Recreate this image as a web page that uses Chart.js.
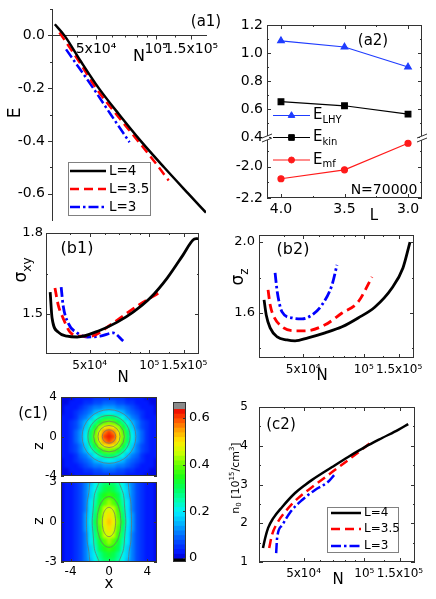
<!DOCTYPE html>
<html>
<head>
<meta charset="utf-8">
<script src="https://cdn.jsdelivr.net/npm/chart.js@4.4.1/dist/chart.umd.min.js"></script>
<style>
html,body{margin:0;padding:0;background:#ffffff;}
#fig{position:relative;width:436px;height:599px;overflow:hidden;background:#ffffff;}
#fig canvas{position:absolute;display:block;}
</style>
</head>
<body>
<div id="fig"></div>
<script>
// ================= DATA =================
// shared logarithmic particle-number axis
const N_TICKS = [50000, 100000, 150000];
const N_TICK_LABELS = ['5x10\u2074', '10\u2075', '1.5x10\u2075'];
const N_MINOR = [40000, 60000, 70000, 80000, 90000, 125000];
const N_MIN = 30100, N_MAX = 178000;
const SERIES_NAMES = ['L=4', 'L=3.5', 'L=3'];

// (a1) energy per particle E vs N
const A1_E_TICKS = [0, -0.2, -0.4, -0.6];
const A1_E_MINOR = [0.1, -0.1, -0.3, -0.5];
const A1_L4_N  = [31100, 34700, 42100, 51600, 65300, 83700, 109600, 145000, 177800];
const A1_L4_E  = [0.042, 0.0, -0.10, -0.20, -0.30, -0.40, -0.50, -0.60, -0.672];
const A1_L35_N = [32800, 41200, 50000, 63300, 81100, 99600, 115600];
const A1_L35_E = [0.011, -0.10, -0.20, -0.30, -0.40, -0.485, -0.55];
const A1_L3_N  = [35400, 48400, 59300, 73600];
const A1_L3_E  = [-0.053, -0.20, -0.30, -0.405];

// (a2) energy contributions vs L at N=70000 (broken y axis)
const A2_L = [4.0, 3.5, 3.0];
const A2_L_TICKS = [4.0, 3.5, 3.0];
const A2_L_MINOR = [3.75, 3.25];
const A2_ELHY = [1.087, 1.043, 0.900];
const A2_EKIN = [0.652, 0.623, 0.563];
const A2_EMF  = [-2.077, -2.020, -1.850];
const A2_UP_TICKS = [0.4, 0.6, 0.8, 1.0, 1.2];
const A2_UP_MINOR = [0.5, 0.7, 0.9, 1.1];
const A2_LOW_TICKS = [-2.2, -2.0];
const A2_LOW_MINOR = [-2.1, -1.9];
const A2_NAMES = [['E', 'LHY'], ['E', 'kin'], ['E', 'mf']];

// (b1) sigma_xy vs N
const B1_TICKS = [1.5, 1.8];
const B1_MINOR = [1.65];
const B1_L4_N  = [31600, 32300, 34700, 38500, 43200, 56500, 68900, 82800, 100900, 123000, 148000, 166000, 176000];
const B1_L4_S  = [1.581, 1.485, 1.433, 1.418, 1.415, 1.440, 1.470, 1.507, 1.559, 1.633, 1.719, 1.774, 1.780];
const B1_L35_N = [33400, 34700, 36700, 39800, 44800, 50300, 63400, 77300, 93100, 116000];
const B1_L35_S = [1.596, 1.533, 1.485, 1.433, 1.418, 1.418, 1.459, 1.504, 1.544, 1.585];
const B1_L3_N  = [35900, 36700, 38900, 43200, 48600, 56500, 65700, 73800];
const B1_L3_S  = [1.600, 1.533, 1.467, 1.430, 1.415, 1.418, 1.430, 1.400];

// (b2) sigma_z vs N
const B2_TICKS = [1.6, 2.0];
const B2_MINOR = [1.4, 1.8];
const B2_L4_N  = [31900, 32700, 34200, 37100, 41500, 45500, 52800, 64200, 78000, 93800, 113800, 138300, 156800, 170000];
const B2_L4_S  = [1.674, 1.589, 1.516, 1.465, 1.448, 1.443, 1.460, 1.488, 1.522, 1.572, 1.634, 1.741, 1.854, 2.000];
const B2_L35_N = [33400, 34200, 35400, 39200, 45500, 51000, 64200, 78000, 93800, 110000];
const B2_L35_S = [1.730, 1.646, 1.589, 1.522, 1.499, 1.499, 1.533, 1.600, 1.662, 1.803];
const B2_L3_N  = [36200, 37100, 39200, 44000, 49300, 55300, 62000, 69500, 73600];
const B2_L3_S  = [1.826, 1.720, 1.606, 1.572, 1.567, 1.589, 1.646, 1.758, 1.871];

// (c1) density maps (one quadrant, mirror-symmetric in x and z)
const C1_X = [0, 0.5, 1, 1.5, 2, 2.5, 3, 3.5, 4, 4.5, 5];
const C1_TOP_Z = [0, 0.5, 1, 1.5, 2, 2.5, 3, 3.5, 4];
const C1_TOP_RHO = [
  [0.635, 0.61, 0.51, 0.40, 0.29, 0.20, 0.13, 0.085, 0.055, 0.038, 0.027],
  [0.61, 0.575, 0.48, 0.38, 0.28, 0.19, 0.128, 0.082, 0.054, 0.037, 0.027],
  [0.51, 0.48, 0.42, 0.33, 0.245, 0.17, 0.115, 0.078, 0.051, 0.035, 0.026],
  [0.40, 0.38, 0.33, 0.27, 0.20, 0.155, 0.10, 0.065, 0.046, 0.032, 0.024],
  [0.29, 0.28, 0.245, 0.20, 0.148, 0.11, 0.08, 0.054, 0.039, 0.029, 0.021],
  [0.20, 0.19, 0.17, 0.155, 0.11, 0.082, 0.06, 0.045, 0.033, 0.025, 0.019],
  [0.13, 0.128, 0.115, 0.10, 0.08, 0.06, 0.047, 0.035, 0.027, 0.021, 0.017],
  [0.085, 0.082, 0.078, 0.065, 0.054, 0.045, 0.035, 0.028, 0.022, 0.018, 0.015],
  [0.055, 0.054, 0.051, 0.046, 0.039, 0.033, 0.027, 0.022, 0.018, 0.015, 0.012]
];
const C1_TOP_CONTOUR_R = [2.8, 2.2, 1.6, 1.15, 0.7];
const C1_BOT_Z = [0, 0.5, 1, 1.5, 2, 2.5, 3];
const C1_BOT_RHO = [
  [0.52, 0.485, 0.41, 0.30, 0.20, 0.122, 0.076, 0.05, 0.035, 0.025, 0.018],
  [0.505, 0.47, 0.395, 0.29, 0.197, 0.12, 0.075, 0.05, 0.035, 0.025, 0.018],
  [0.47, 0.44, 0.37, 0.275, 0.19, 0.118, 0.074, 0.049, 0.034, 0.025, 0.018],
  [0.42, 0.395, 0.335, 0.255, 0.18, 0.115, 0.072, 0.048, 0.034, 0.025, 0.018],
  [0.365, 0.35, 0.30, 0.235, 0.17, 0.11, 0.07, 0.047, 0.033, 0.024, 0.018],
  [0.32, 0.31, 0.27, 0.215, 0.16, 0.105, 0.068, 0.046, 0.033, 0.024, 0.018],
  [0.29, 0.285, 0.25, 0.20, 0.15, 0.10, 0.065, 0.045, 0.032, 0.024, 0.018]
];
const C1_BOT_CONTOURS = [
  {x: [0.7, 0.61, 0.35, 0, -0.35, -0.61, -0.7, -0.61, -0.35, 0, 0.35, 0.61, 0.7],
   z: [0, 0.55, 0.95, 1.1, 0.95, 0.55, 0, -0.55, -0.95, -1.1, -0.95, -0.55, 0]},
  {x: [1.25, 1.08, 0.62, 0, -0.62, -1.08, -1.25, -1.08, -0.62, 0, 0.62, 1.08, 1.25],
   z: [0, 0.95, 1.65, 1.9, 1.65, 0.95, 0, -0.95, -1.65, -1.9, -1.65, -0.95, 0]},
  {x: [1.0, 1.3, 1.52, 1.64, 1.75, 1.64, 1.52, 1.3, 1.0], z: [3, 2.5, 2, 1, 0, -1, -2, -2.5, -3]},
  {x: [-1.0, -1.3, -1.52, -1.64, -1.75, -1.64, -1.52, -1.3, -1.0], z: [3, 2.5, 2, 1, 0, -1, -2, -2.5, -3]},
  {x: [2.0, 2.1, 2.27, 2.32, 2.35, 2.32, 2.27, 2.1, 2.0], z: [3, 2.2, 1.5, 0.8, 0, -0.8, -1.5, -2.2, -3]},
  {x: [-2.0, -2.1, -2.27, -2.32, -2.35, -2.32, -2.27, -2.1, -2.0], z: [3, 2.2, 1.5, 0.8, 0, -0.8, -1.5, -2.2, -3]}
];
const C1_X_RANGE = [-5, 5];
const C1_TOP_Z_RANGE = [-4, 4];
const C1_BOT_Z_RANGE = [-3, 3];
const C1_X_TICKS = [-4, 0, 4];
const C1_TOP_Z_TICKS = [-4, 0, 4];
const C1_BOT_Z_TICKS = [-3, 0, 3];
const CB_LEVELS = [0, 0.02, 0.04, 0.06, 0.08, 0.1, 0.12, 0.14, 0.16, 0.18, 0.2, 0.22, 0.24, 0.26, 0.28, 0.3,
                   0.32, 0.34, 0.36, 0.38, 0.4, 0.42, 0.44, 0.46, 0.48, 0.5, 0.52, 0.54, 0.56, 0.58, 0.6, 0.62, 0.64];
const CB_UNDER = [-0.017, 0];
const CB_OVER = [0.64, 0.668];
const CB_TICKS = [0, 0.2, 0.4, 0.6];

// (c2) peak density n0 vs N
const C2_TICKS = [1, 2, 3, 4, 5];
const C2_MINOR = [1.5, 2.5, 3.5, 4.5];
const C2_L4_N  = [31500, 32300, 33400, 35300, 39200, 45400, 50900, 55100, 69200, 83100, 100900, 122400, 147000, 164800];
const C2_L4_V  = [1.36, 1.62, 1.88, 2.12, 2.42, 2.78, 2.99, 3.12, 3.45, 3.71, 3.97, 4.20, 4.41, 4.56];
const C2_L35_N = [33800, 34900, 37000, 40500, 47000, 57000, 69200, 83100, 106900];
const C2_L35_V = [1.36, 1.70, 2.00, 2.29, 2.65, 2.99, 3.32, 3.63, 4.07];
const C2_L3_N  = [36600, 37000, 39200, 42900, 49200, 57000, 66200, 70800];
const C2_L3_V  = [1.23, 1.62, 1.95, 2.28, 2.60, 2.86, 3.07, 3.24];

// ================= STYLE / HELPERS =================
const FONT = "'DejaVu Sans', 'Liberation Sans', Arial, sans-serif";
Chart.defaults.font.family = FONT;
Chart.defaults.color = '#000';
Chart.defaults.animation = false;
Chart.defaults.responsive = false;
Chart.defaults.maintainAspectRatio = false;
Chart.defaults.devicePixelRatio = 1;
Chart.defaults.events = [];
Chart.defaults.plugins.legend.display = false;
Chart.defaults.plugins.tooltip.enabled = false;

const AXIS = '#333333';
const BLACK = '#000000', RED = '#ff0000', BLUE = '#0000ff';
const A2_BLUE = '#1f3cff', A2_RED = '#ff1a1a';
const CONTOUR = '#6f6f6f';
const DASH_RED = [9, 5];
const DASH_BLUE = [10, 3, 2.5, 3];
const HEAT_BLUR = 'blur(1.6px)';
const CMAP = [[0.00, [0, 0, 215]], [0.03, [0, 25, 255]], [0.06, [0, 60, 255]], [0.10, [0, 110, 255]], [0.15, [0, 180, 255]],
  [0.20, [0, 240, 255]], [0.25, [0, 255, 170]], [0.30, [0, 255, 90]], [0.35, [30, 255, 20]],
  [0.40, [100, 255, 0]], [0.45, [200, 255, 0]], [0.50, [255, 235, 0]], [0.55, [255, 160, 0]],
  [0.60, [255, 70, 0]], [0.64, [235, 0, 0]]];

function cmap(v) {
  if (v < 0) return '#000000';
  if (v >= 0.64) return '#8a8a8a';
  const q = Math.floor(v / 0.02) * 0.02 + 0.01;
  for (let i = 1; i < CMAP.length; i++) {
    if (q <= CMAP[i][0]) {
      const a = CMAP[i - 1][0], ca = CMAP[i - 1][1], b = CMAP[i][0], cb = CMAP[i][1];
      const t = (q - a) / (b - a);
      return 'rgb(' + ca.map((c, k) => Math.round(c + (cb[k] - c) * t)).join(',') + ')';
    }
  }
  return 'rgb(235,0,0)';
}

function mkCanvas(L, T, W, H) {
  const c = document.createElement('canvas');
  c.width = W; c.height = H;
  c.style.left = L + 'px'; c.style.top = T + 'px';
  c.style.width = W + 'px'; c.style.height = H + 'px';
  document.getElementById('fig').appendChild(c);
  return c;
}
const fitTo = size => s => {
  if (s.isHorizontal()) s.height = size; else s.width = size;
  s.paddingLeft = 0; s.paddingRight = 0; s.paddingTop = 0; s.paddingBottom = 0;
};
const setTicks = vals => s => { s.ticks = vals.map(v => ({value: v})); };
const pts = (xs, ys) => xs.map((x, i) => ({x: x, y: ys[i]}));
const nLabel = v => { const i = N_TICKS.indexOf(v); return i < 0 ? '' : N_TICK_LABELS[i]; };
const NOGRID = {display: false, drawTicks: false, tickLength: 0};

function curve(xs, ys, color, w, dash) {
  return {data: pts(xs, ys), borderColor: color, backgroundColor: color, borderWidth: w,
    borderDash: dash, pointRadius: 0, cubicInterpolationMode: 'monotone', fill: false};
}
function nAxis(height, pad, size) {
  return {type: 'logarithmic', position: 'bottom', min: N_MIN, max: N_MAX,
    afterBuildTicks: setTicks(N_TICKS), afterFit: fitTo(height),
    grid: NOGRID, border: {display: false},
    ticks: {callback: nLabel, autoSkip: false, maxRotation: 0, minRotation: 0, padding: pad, font: {size: size}, color: '#000'}};
}
function linAxis(o) {
  return Object.assign({type: 'linear', min: o.min, max: o.max,
    afterBuildTicks: setTicks(o.ticks), afterFit: fitTo(o.fit),
    grid: NOGRID, border: {display: false},
    ticks: {callback: o.fmt, autoSkip: false, padding: o.pad, font: {size: o.size}, color: '#000'}}, o.extra || {});
}

function drawRich(ctx, t, ox, oy) {
  const size = t.size || 14;
  const parts = t.parts || [{s: t.s}];
  ctx.save();
  ctx.translate(t.x - ox, t.y - oy);
  if (t.rot) ctx.rotate(t.rot * Math.PI / 180);
  ctx.fillStyle = t.color || '#000';
  ctx.textBaseline = 'middle';
  ctx.textAlign = 'left';
  const items = parts.map(p => {
    const fs = (p.sub || p.sup) ? Math.round(size * 0.68) : size;
    ctx.font = fs + 'px ' + FONT;
    return {p: p, fs: fs, w: ctx.measureText(p.s).width};
  });
  const total = items.reduce((a, m) => a + m.w, 0);
  let x = t.align === 'left' ? 0 : (t.align === 'right' ? -total : -total / 2);
  for (const m of items) {
    ctx.font = m.fs + 'px ' + FONT;
    const dy = m.p.sub ? size * 0.32 : (m.p.sup ? -size * 0.36 : 0);
    ctx.fillText(m.p.s, x, dy);
    x += m.w;
  }
  ctx.restore();
}
function drawMarker(ctx, style, r, x, y, color) {
  ctx.save();
  ctx.fillStyle = color; ctx.strokeStyle = color; ctx.lineWidth = 1;
  if (Chart.helpers && Chart.helpers.drawPoint) {
    Chart.helpers.drawPoint(ctx, {pointStyle: style, radius: r, borderWidth: 1, rotation: 0}, x, y);
  } else {
    ctx.beginPath(); ctx.arc(x, y, r, 0, Math.PI * 2); ctx.fill();
  }
  ctx.restore();
}
function drawTickSpec(chart, sp) {
  const ctx = chart.ctx, ca = chart.chartArea, s = chart.scales[sp.scale];
  ctx.save();
  ctx.strokeStyle = AXIS; ctx.lineWidth = 1; ctx.setLineDash([]);
  ctx.beginPath();
  for (const v of sp.vals) {
    let p = s.getPixelForValue(v);
    if (s.isHorizontal()) { if (p < ca.left - 0.5 || p > ca.right + 0.5) continue; }
    else { if (p < s.top - 0.5 || p > s.bottom + 0.5) continue; }
    p = Math.round(p) + 0.5;
    const L = sp.len * (sp.out ? -1 : 1);
    for (const side of sp.sides) {
      if (side === 'bottom') { ctx.moveTo(p, ca.bottom); ctx.lineTo(p, ca.bottom - L); }
      else if (side === 'top') { ctx.moveTo(p, ca.top); ctx.lineTo(p, ca.top + L); }
      else if (side === 'left') { ctx.moveTo(ca.left, p); ctx.lineTo(ca.left + L, p); }
      else if (side === 'right') { ctx.moveTo(ca.right, p); ctx.lineTo(ca.right - L, p); }
      else if (side === 'zero') {
        const y0 = Math.round(chart.scales.y.getPixelForValue(0)) + 0.5;
        ctx.moveTo(p, y0); ctx.lineTo(p, y0 - L);
      }
    }
  }
  ctx.stroke();
  ctx.restore();
}
function drawLegend(ctx, lg, ox, oy) {
  ctx.save();
  if (lg.box) {
    ctx.fillStyle = '#fff';
    ctx.fillRect(lg.box[0] - ox, lg.box[1] - oy, lg.box[2], lg.box[3]);
    ctx.strokeStyle = '#808080'; ctx.lineWidth = 1;
    ctx.strokeRect(lg.box[0] - ox + 0.5, lg.box[1] - oy + 0.5, lg.box[2], lg.box[3]);
  }
  for (const it of lg.items) {
    const y = it.y - oy;
    ctx.beginPath();
    ctx.setLineDash(it.dash || []);
    ctx.strokeStyle = it.color; ctx.lineWidth = it.width;
    ctx.moveTo(it.x1 - ox, y); ctx.lineTo(it.x2 - ox, y);
    ctx.stroke();
    ctx.setLineDash([]);
    if (it.marker) drawMarker(ctx, it.marker, it.r, (it.x1 + it.x2) / 2 - ox, y, it.color);
    drawRich(ctx, {x: it.tx, y: it.y, parts: it.parts, size: it.size, align: 'left'}, ox, oy);
  }
  ctx.restore();
}
function decor(cfg) {
  return {
    id: 'decor',
    afterDraw(chart) {
      const ctx = chart.ctx, ca = chart.chartArea;
      const ox = cfg.origin[0], oy = cfg.origin[1];
      ctx.save();
      ctx.setLineDash([]);
      if (cfg.frame) {
        ctx.strokeStyle = AXIS; ctx.lineWidth = 1;
        const l = Math.round(ca.left) + 0.5, t = Math.round(ca.top) + 0.5;
        const r = Math.round(ca.right) - 0.5, b = Math.round(ca.bottom) - 0.5;
        ctx.strokeRect(l, t, r - l, b - t);
      }
      (cfg.ticks || []).forEach(sp => drawTickSpec(chart, sp));
      (cfg.breaks || []).forEach(bk => {
        const bx = bk[0] - ox, by = bk[1] - oy;
        ctx.fillStyle = '#fff';
        ctx.fillRect(bx - 2, by - 1, 4, 4);
        ctx.strokeStyle = AXIS; ctx.lineWidth = 1;
        ctx.beginPath();
        ctx.moveTo(bx - 5, by + 1); ctx.lineTo(bx + 5, by - 3);
        ctx.moveTo(bx - 5, by + 5); ctx.lineTo(bx + 5, by + 1);
        ctx.stroke();
      });
      if (cfg.legend) drawLegend(ctx, cfg.legend, ox, oy);
      (cfg.texts || []).forEach(t => drawRich(ctx, t, ox, oy));
      ctx.restore();
    }
  };
}
function mirrorCells(xs, zs, grid, dz) {
  const cells = [];
  zs.forEach((z, j) => xs.forEach((x, i) => {
    const v = grid[j][i];
    const xx = x === 0 ? [0] : [x, -x];
    const zz = z === 0 ? [0] : [z, -z];
    xx.forEach(a => zz.forEach(b => cells.push({x: a, y: [b - dz / 2, b + dz / 2], v: v})));
  }));
  return cells;
}
const lineLegend = (x1, x2, tx, ys, size) => [
  {y: ys[0], x1: x1, x2: x2, color: BLACK, width: 2.5, dash: [], tx: tx, parts: [{s: SERIES_NAMES[0]}], size: size},
  {y: ys[1], x1: x1, x2: x2, color: RED, width: 2.5, dash: DASH_RED, tx: tx, parts: [{s: SERIES_NAMES[1]}], size: size},
  {y: ys[2], x1: x1, x2: x2, color: BLUE, width: 2.5, dash: DASH_BLUE, tx: tx, parts: [{s: SERIES_NAMES[2]}], size: size}
];
const nTickSpecs = [
  {scale: 'x', vals: N_TICKS, len: 4, sides: ['bottom', 'top']},
  {scale: 'x', vals: N_MINOR, len: 2, sides: ['bottom', 'top']}
];

// ================= (c1) heat-map layers (drawn first, softened) =================
const heatBars = (cells) => ({type: 'bar', data: cells,
  backgroundColor: ctx => (ctx.raw ? cmap(ctx.raw.v) : '#000'),
  borderWidth: 0, barPercentage: 1, categoryPercentage: 1, grouped: false, inflateAmount: 0.5});
function heatLayer(l, t, w, h, xr, zr, cells, m) {
  const div = document.createElement('div');
  Object.assign(div.style, {position: 'absolute', left: l + 'px', top: t + 'px', width: w + 'px', height: h + 'px', overflow: 'hidden'});
  document.getElementById('fig').appendChild(div);
  const c = document.createElement('canvas');
  c.width = w + 2 * m; c.height = h + 2 * m;
  Object.assign(c.style, {left: (-m) + 'px', top: (-m) + 'px', width: (w + 2 * m) + 'px', height: (h + 2 * m) + 'px', filter: HEAT_BLUR});
  div.appendChild(c);
  const ex = (xr[1] - xr[0]) / w * m, ez = (zr[1] - zr[0]) / h * m;
  return new Chart(c, {type: 'bar', data: {datasets: [heatBars(cells)]},
    options: {layout: {padding: 0}, scales: {
      x: {type: 'linear', display: false, min: xr[0] - ex, max: xr[1] + ex, offset: false, grid: {offset: false}},
      y: {type: 'linear', display: false, min: zr[0] - ez, max: zr[1] + ez}}}});
}
heatLayer(61, 397, 96, 79, C1_X_RANGE, C1_TOP_Z_RANGE, mirrorCells(C1_X, C1_TOP_Z, C1_TOP_RHO, 0.5), 2);
heatLayer(61, 482, 96, 80, C1_X_RANGE, C1_BOT_Z_RANGE, mirrorCells(C1_X, C1_BOT_Z, C1_BOT_RHO, 0.5), 2);

// ================= (a1) =================
new Chart(mkCanvas(0, 0, 225, 228), {
  type: 'line',
  data: {datasets: [
    curve(A1_L4_N, A1_L4_E, BLACK, 2.5, []),
    curve(A1_L35_N, A1_L35_E, RED, 2.5, DASH_RED),
    curve(A1_L3_N, A1_L3_E, BLUE, 2.5, DASH_BLUE)
  ]},
  options: {
    layout: {padding: {left: 0, top: 9, right: 8, bottom: 8}},
    scales: {
      x: {type: 'logarithmic', position: {y: 0}, min: N_MIN, max: N_MAX,
        afterBuildTicks: setTicks(N_TICKS), grid: NOGRID,
        border: {display: true, color: AXIS, width: 1},
        ticks: {callback: nLabel, autoSkip: false, maxRotation: 0, minRotation: 0, padding: 6, font: {size: 14}, color: '#000'}},
      y: linAxis({min: -0.70, max: 0.10, ticks: A1_E_TICKS, fit: 52, fmt: v => v.toFixed(1), pad: 7, size: 14,
        extra: {border: {display: true, color: AXIS, width: 1}}})
    }
  },
  plugins: [decor({origin: [0, 0],
    ticks: [
      {scale: 'y', vals: A1_E_TICKS, len: 4, sides: ['left'], out: true},
      {scale: 'y', vals: A1_E_MINOR, len: 2, sides: ['left'], out: true},
      {scale: 'x', vals: N_TICKS, len: 4, sides: ['zero'], out: true},
      {scale: 'x', vals: N_MINOR, len: 2, sides: ['zero'], out: true}
    ],
    legend: {box: [68, 162, 82, 53], items: lineLegend(70, 106, 109, [171, 189, 207], 13.5)},
    texts: [
      {x: 206, y: 22, s: '(a1)', size: 15},
      {x: 139, y: 57, s: 'N', size: 16},
      {x: 16, y: 113, s: 'E', size: 17, rot: -90}
    ]})]
});

// ================= (a2) =================
new Chart(mkCanvas(222, 0, 214, 228), {
  type: 'line',
  data: {datasets: [
    {data: pts(A2_L, A2_ELHY), yAxisID: 'yTop', borderColor: A2_BLUE, backgroundColor: A2_BLUE, borderWidth: 1.2, pointStyle: 'triangle', pointRadius: 3.8, tension: 0},
    {data: pts(A2_L, A2_EKIN), yAxisID: 'yTop', borderColor: BLACK, backgroundColor: BLACK, borderWidth: 1.2, pointStyle: 'rect', pointRadius: 4, tension: 0},
    {data: pts(A2_L, A2_EMF), yAxisID: 'yBot', borderColor: A2_RED, backgroundColor: A2_RED, borderWidth: 1.2, pointStyle: 'circle', pointRadius: 3, tension: 0}
  ]},
  options: {
    layout: {padding: {left: 0, top: 25, right: 14, bottom: 0}},
    scales: {
      x: linAxis({min: 2.89, max: 4.11, ticks: A2_L_TICKS, fit: 30, fmt: v => v.toFixed(1), pad: 3, size: 14,
        extra: {reverse: true, position: 'bottom'}}),
      yTop: linAxis({min: 0.4, max: 1.2, ticks: A2_UP_TICKS, fit: 45, fmt: v => v.toFixed(1), pad: 4, size: 14,
        extra: {position: 'left', stack: 'a2', stackWeight: 112, weight: 2}}),
      yBot: linAxis({min: -2.2, max: -1.81, ticks: A2_LOW_TICKS, fit: 45, fmt: v => v.toFixed(1), pad: 4, size: 14,
        extra: {position: 'left', stack: 'a2', stackWeight: 61, weight: 1}})
    }
  },
  plugins: [decor({origin: [222, 0], frame: true,
    ticks: [
      {scale: 'x', vals: A2_L_TICKS, len: 4, sides: ['bottom', 'top']},
      {scale: 'x', vals: A2_L_MINOR, len: 2, sides: ['bottom', 'top']},
      {scale: 'yTop', vals: A2_UP_TICKS, len: 4, sides: ['left', 'right']},
      {scale: 'yTop', vals: A2_UP_MINOR, len: 2, sides: ['left', 'right']},
      {scale: 'yBot', vals: A2_LOW_TICKS, len: 4, sides: ['left', 'right']},
      {scale: 'yBot', vals: A2_LOW_MINOR, len: 2, sides: ['left', 'right']}
    ],
    breaks: [[267, 137], [422, 137]],
    legend: {items: [
      {y: 115.5, x1: 273, x2: 310, color: A2_BLUE, width: 1.2, marker: 'triangle', r: 3.8, tx: 313, parts: [{s: A2_NAMES[0][0]}, {s: A2_NAMES[0][1], sub: true}], size: 15},
      {y: 137.5, x1: 273, x2: 310, color: BLACK, width: 1.2, marker: 'rect', r: 4, tx: 313, parts: [{s: A2_NAMES[1][0]}, {s: A2_NAMES[1][1], sub: true}], size: 15},
      {y: 160, x1: 273, x2: 310, color: A2_RED, width: 1.2, marker: 'circle', r: 3, tx: 313, parts: [{s: A2_NAMES[2][0]}, {s: A2_NAMES[2][1], sub: true}], size: 15}
    ]},
    texts: [
      {x: 373, y: 41, s: '(a2)', size: 15},
      {x: 384, y: 190, s: 'N=70000', size: 14},
      {x: 374, y: 216, s: 'L', size: 15}
    ]})]
});

// ================= (b1) =================
new Chart(mkCanvas(0, 225, 218, 162), {
  type: 'line',
  data: {datasets: [
    curve(B1_L4_N, B1_L4_S, BLACK, 2.8, []),
    curve(B1_L35_N, B1_L35_S, RED, 2.8, DASH_RED),
    curve(B1_L3_N, B1_L3_S, BLUE, 2.8, DASH_BLUE)
  ]},
  options: {
    layout: {padding: {left: 0, top: 8, right: 19, bottom: 0}},
    scales: {
      x: nAxis(33, 5, 12),
      y: linAxis({min: 1.352, max: 1.80, ticks: B1_TICKS, fit: 46, fmt: v => v.toFixed(1), pad: 3, size: 13})
    }
  },
  plugins: [decor({origin: [0, 225], frame: true,
    ticks: nTickSpecs.concat([
      {scale: 'y', vals: B1_TICKS, len: 4, sides: ['left', 'right']},
      {scale: 'y', vals: B1_MINOR, len: 2, sides: ['left', 'right']}
    ]),
    texts: [
      {x: 77, y: 249, s: '(b1)', size: 16},
      {x: 22, y: 270, parts: [{s: '\u03c3'}, {s: 'xy', sub: true}], size: 17, rot: -90},
      {x: 123, y: 378, s: 'N', size: 15}
    ]})]
});

// ================= (b2) =================
new Chart(mkCanvas(218, 225, 218, 162), {
  type: 'line',
  data: {datasets: [
    curve(B2_L4_N, B2_L4_S, BLACK, 2.8, []),
    curve(B2_L35_N, B2_L35_S, RED, 2.8, DASH_RED),
    curve(B2_L3_N, B2_L3_S, BLUE, 2.8, DASH_BLUE)
  ]},
  options: {
    layout: {padding: {left: 0, top: 10, right: 22, bottom: 0}},
    scales: {
      x: nAxis(29, 5, 12),
      y: linAxis({min: 1.346, max: 2.04, ticks: B2_TICKS, fit: 41, fmt: v => v.toFixed(1), pad: 4, size: 13})
    }
  },
  plugins: [decor({origin: [218, 225], frame: true,
    ticks: nTickSpecs.concat([
      {scale: 'y', vals: B2_TICKS, len: 4, sides: ['left', 'right']},
      {scale: 'y', vals: B2_MINOR, len: 2, sides: ['left', 'right']}
    ]),
    texts: [
      {x: 293, y: 250, s: '(b2)', size: 16},
      {x: 239, y: 277, parts: [{s: '\u03c3'}, {s: 'z', sub: true}], size: 17, rot: -90},
      {x: 322, y: 376, s: 'N', size: 15}
    ]})]
});

// ================= (c1) axes, frames and contour lines =================
const heatTicks = (zt) => [
  {scale: 'x', vals: C1_X_TICKS, len: 3, sides: ['bottom', 'top']},
  {scale: 'y', vals: zt, len: 3, sides: ['left', 'right']}
];
new Chart(mkCanvas(0, 387, 165, 95), {
  type: 'scatter',
  data: {datasets: [
    {data: C1_TOP_CONTOUR_R.map(r => ({x: 0, y: 0, rr: r})), showLine: false,
      pointRadius: ctx => (ctx.raw ? Math.abs(ctx.chart.scales.x.getPixelForValue(ctx.raw.rr) - ctx.chart.scales.x.getPixelForValue(0)) : 0),
      pointBackgroundColor: 'rgba(0,0,0,0)', pointBorderColor: CONTOUR, pointBorderWidth: 0.7}
  ]},
  options: {
    layout: {padding: {left: 0, top: 10, right: 8, bottom: 6}},
    scales: {
      x: {type: 'linear', display: false, min: C1_X_RANGE[0], max: C1_X_RANGE[1]},
      y: linAxis({min: C1_TOP_Z_RANGE[0], max: C1_TOP_Z_RANGE[1], ticks: C1_TOP_Z_TICKS, fit: 61, fmt: v => String(v), pad: 4, size: 12})
    }
  },
  plugins: [decor({origin: [0, 387], frame: true, ticks: heatTicks(C1_TOP_Z_TICKS),
    texts: [
      {x: 33, y: 414, s: '(c1)', size: 15},
      {x: 39, y: 446, s: 'z', size: 14, rot: -90}
    ]})]
});

new Chart(mkCanvas(0, 474, 165, 125), {
  type: 'line',
  data: {datasets: C1_BOT_CONTOURS.map(c => ({data: pts(c.x, c.z),
      borderColor: CONTOUR, borderWidth: 0.7, pointRadius: 0, tension: 0.4, fill: false}))},
  options: {
    layout: {padding: {left: 0, top: 8, right: 8, bottom: 0}},
    scales: {
      x: linAxis({min: C1_X_RANGE[0], max: C1_X_RANGE[1], ticks: C1_X_TICKS, fit: 37, fmt: v => String(v), pad: 3, size: 12,
        extra: {position: 'bottom'}}),
      y: linAxis({min: C1_BOT_Z_RANGE[0], max: C1_BOT_Z_RANGE[1], ticks: C1_BOT_Z_TICKS, fit: 61, fmt: v => String(v), pad: 4, size: 12})
    }
  },
  plugins: [decor({origin: [0, 474], frame: true, ticks: heatTicks(C1_BOT_Z_TICKS),
    texts: [
      {x: 39, y: 521, s: 'z', size: 14, rot: -90},
      {x: 109, y: 584, s: 'x', size: 15}
    ]})]
});

// colour bar
const cbBars = [{x: '', y: CB_UNDER, v: -0.01}]
  .concat(CB_LEVELS.slice(0, -1).map((lo, i) => ({x: '', y: [lo, CB_LEVELS[i + 1]], v: (lo + CB_LEVELS[i + 1]) / 2})))
  .concat([{x: '', y: CB_OVER, v: 0.65}]);
new Chart(mkCanvas(165, 392, 55, 180), {
  type: 'bar',
  data: {labels: [''], datasets: [{data: cbBars, backgroundColor: ctx => (ctx.raw ? cmap(ctx.raw.v) : '#000'),
    borderWidth: 0, barPercentage: 1, categoryPercentage: 1, grouped: false, inflateAmount: 0.5}]},
  options: {
    layout: {padding: {left: 8, top: 10, right: 0, bottom: 10}},
    scales: {
      x: {type: 'category', display: false, offset: true},
      y: linAxis({min: CB_UNDER[0], max: CB_OVER[1], ticks: CB_TICKS, fit: 34, fmt: v => (v === 0 ? '0' : v.toFixed(1)), pad: 3, size: 13,
        extra: {position: 'right'}})
    }
  },
  plugins: [decor({origin: [165, 392], frame: true,
    ticks: [{scale: 'y', vals: CB_TICKS, len: 3, sides: ['right']}]})]
});

// ================= (c2) =================
new Chart(mkCanvas(218, 390, 218, 209), {
  type: 'line',
  data: {datasets: [
    curve(C2_L4_N, C2_L4_V, BLACK, 2.5, []),
    curve(C2_L35_N, C2_L35_V, RED, 2.5, DASH_RED),
    curve(C2_L3_N, C2_L3_V, BLUE, 2.5, DASH_BLUE)
  ]},
  options: {
    layout: {padding: {left: 0, top: 17, right: 21, bottom: 0}},
    scales: {
      x: nAxis(37, 5, 12),
      y: linAxis({min: 1, max: 5, ticks: C2_TICKS, fit: 41, fmt: v => String(v), pad: 11, size: 12})
    }
  },
  plugins: [decor({origin: [218, 390], frame: true,
    ticks: nTickSpecs.concat([
      {scale: 'y', vals: C2_TICKS, len: 4, sides: ['left', 'right']},
      {scale: 'y', vals: C2_MINOR, len: 2, sides: ['left', 'right']}
    ]),
    legend: {box: [327, 507, 71, 45], items: lineLegend(331, 361, 364, [513, 529, 546], 12)},
    texts: [
      {x: 281, y: 425, s: '(c2)', size: 15},
      {x: 236, y: 478, rot: -90, size: 11, parts: [{s: 'n'}, {s: '0', sub: true}, {s: ' [10'}, {s: '15', sup: true}, {s: '/cm'}, {s: '3', sup: true}, {s: ']'}]},
      {x: 338, y: 580, s: 'N', size: 15}
    ]})]
});
</script>
</body>
</html>
